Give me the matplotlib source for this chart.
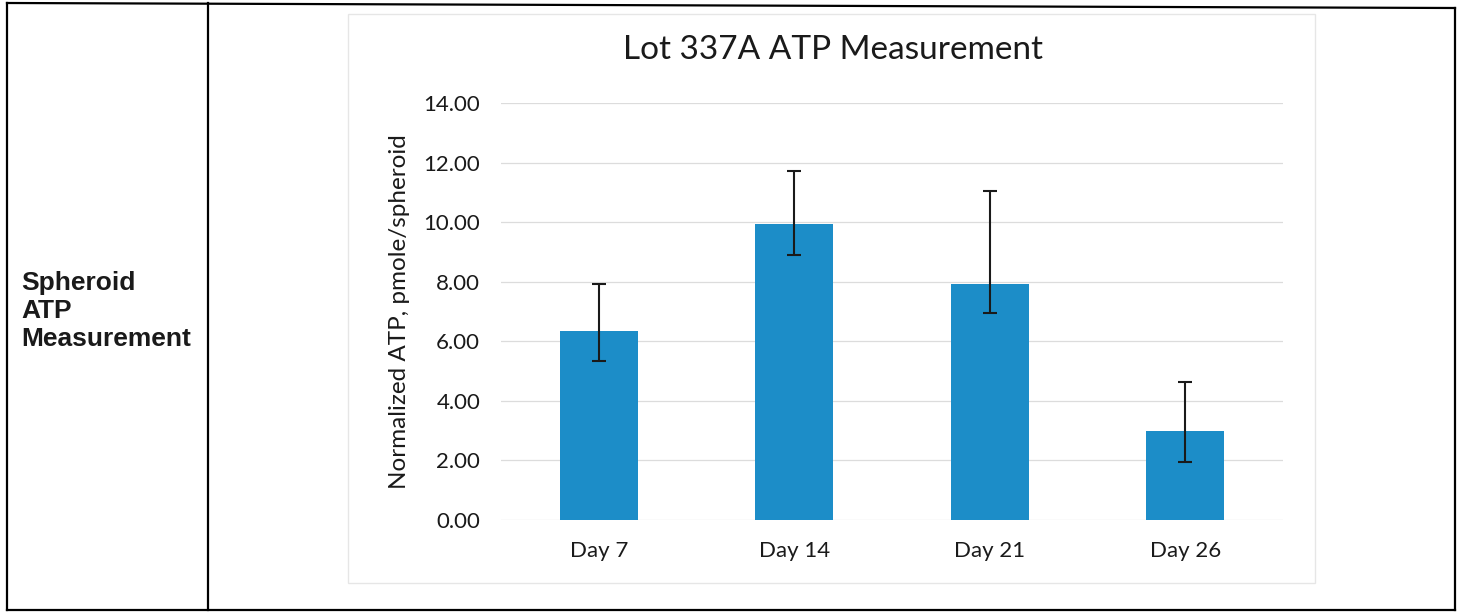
import numpy as np
import matplotlib
matplotlib.use("Agg")
import matplotlib.pyplot as plt
from matplotlib.lines import Line2D
from matplotlib.patches import Rectangle

# data
days = ["Day 7", "Day 14", "Day 21", "Day 26"]
atp = [6.34, 9.93, 7.94, 2.99]
err_low = [1.00, 1.03, 1.00, 1.03]
err_high = [1.58, 1.79, 3.11, 1.65]
yticks = [0, 2, 4, 6, 8, 10, 12, 14]

W, H = 1460, 615
fig = plt.figure(figsize=(W / 100, H / 100), dpi=100)
fig.patch.set_facecolor("white")

def fx(px):
    return px / W

def fy(py):
    return 1 - py / H

# table borders of the document
for (x0, y0, x1, y1) in [(7, 3, 1455, 8), (7, 610, 1455, 610), (7, 3, 7, 610),
                         (1455, 8, 1455, 610), (208, 3, 208, 610)]:
    fig.add_artist(Line2D([fx(x0), fx(x1)], [fy(y0), fy(y1)], color="black", lw=1.6))

# chart area frame
fig.add_artist(Rectangle((fx(348), fy(583)), fx(1315) - fx(348), fy(14) - fy(583),
                         fill=False, edgecolor="#e6e6e6", lw=1))

# left cell label
fig.text(fx(21), fy(346), "Spheroid\nATP\nMeasurement", ha="left", va="baseline",
         fontsize=19, fontweight="bold", family="Liberation Sans", color="#1a1a1a",
         linespacing=1.22)

ax = fig.add_axes([fx(501), fy(520), fx(1283) - fx(501), fy(103) - fy(520)])
x = np.arange(len(days))
ax.bar(x, atp, width=0.40, color="#1C8DC8", zorder=2)
ax.errorbar(x, atp, yerr=[err_low, err_high], fmt="none", ecolor="#1a1a1a",
            elinewidth=1.5, capsize=5, capthick=1.5, zorder=3)

ax.set_xlim(-0.5, len(days) - 0.5)
ax.set_ylim(0, 14)
ax.set_yticks(yticks)
ax.set_yticklabels([f"{v:.2f}" for v in yticks])
ax.set_xticks(x)
ax.set_xticklabels(days)
ax.grid(axis="y", color="#dcdcdc", lw=0.9, zorder=0)
ax.set_axisbelow(True)
for s in ax.spines.values():
    s.set_visible(False)
ax.tick_params(length=0, labelsize=16, colors="#1a1a1a")
ax.tick_params(axis="y", pad=15)
ax.tick_params(axis="x", pad=15)
for lab in ax.get_xticklabels() + ax.get_yticklabels():
    lab.set_family("Lato")

ax.set_ylabel("Normalized ATP, pmole/spheroid", fontsize=17.5, family="Lato",
              color="#1a1a1a", labelpad=10)
fig.text(fx(833), fy(50), "Lot 337A ATP Measurement", ha="center", va="center",
         fontsize=24, family="Lato", color="#1a1a1a")

fig.savefig("out.png", dpi=100, facecolor="white")
